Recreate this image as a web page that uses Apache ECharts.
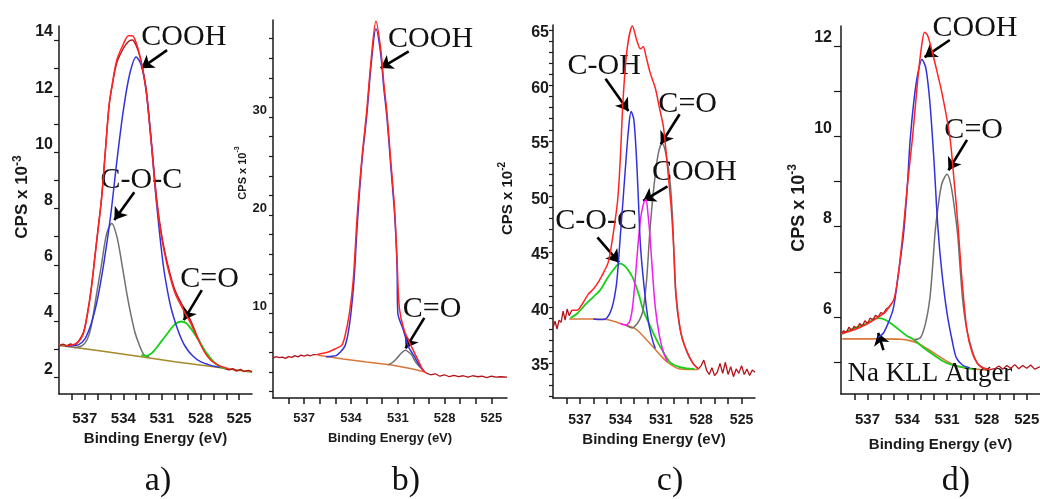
<!DOCTYPE html>
<html><head><meta charset="utf-8">
<script src="https://cdn.jsdelivr.net/npm/echarts@6/dist/echarts.min.js"></script>
<style>html,body{margin:0;padding:0;background:#fff}#c{width:1040px;height:499px}</style>
</head><body><div id="c"></div>
<script>
// ---------- shared tick values ----------
const energyTicks = [525,526,527,528,529,530,531,532,533,534,535,536,537,538];
const energyLabels = [525,528,531,534,537];

// ---------- panel a ----------
const aYTicks = [2,3,4,5,6,7,8,9,10,11,12,13,14];
const aYLabels = [2,4,6,8,10,12,14];
const aBackground = [[539,3.13],[536,2.95],[533,2.75],[530,2.55],[527,2.37],[524,2.18]];
const aMeasured = [[539,3.1],[538.7,3.17],[538.4,3.12],[538.1,3.18],[537.8,3.14],[537.5,3.27],[537.1,3.6],[536.8,4.25],[536.5,5.15],[536.2,6.35],[536,7.15],[535.7,8.35],[535.4,10.05],[535.1,11.7],[534.8,12.55],[534.5,13.2],[534,13.7],[533.6,13.95],[533.3,14.0],[533,13.8],[532.7,13.4],[532.4,12.75],[532.2,12.15],[531.8,10.3],[531.4,8.3],[531,7.0],[530.6,6.1],[530.2,5.4],[529.9,5.0],[529.4,4.55],[528.8,4.05],[528.3,3.5],[527.7,2.95],[527.2,2.62],[526.5,2.38],[526.1,2.3],[525.8,2.26],[525.5,2.3],[525.2,2.22],[524.9,2.27],[524.6,2.2],[524.3,2.24],[524,2.2]];
const aEnvelope = [[538.5,3.12],[538,3.14],[537.5,3.25],[537.1,3.55],[536.8,4.2],[536.5,5.1],[536.2,6.3],[536,7.1],[535.7,8.3],[535.4,10],[535.1,11.7],[534.8,12.6],[534.5,13.3],[534,13.85],[533.6,14.15],[533.3,14.15],[533,13.9],[532.7,13.4],[532.4,12.7],[532.2,12.1],[531.8,10.2],[531.4,8.2],[531,6.9],[530.6,6.0],[530.2,5.3],[529.9,4.9],[529.4,4.45],[528.8,3.95],[528.3,3.45],[527.7,2.9],[527.2,2.6],[526.5,2.4],[525.8,2.3]];
const aCOOH = [[538.5,3.1],[537.5,3.15],[537,3.35],[536.5,3.9],[536,4.8],[535.5,6.1],[535,7.7],[534.5,9.7],[534,11.5],[533.5,12.8],[533,13.4],[532.6,13.1],[532.2,12.1],[531.8,10.2],[531.4,8.1],[530.9,6.0],[530.5,4.9],[530.2,4.3],[529.7,3.6],[529.2,3.1],[528.6,2.75],[528,2.55],[527.2,2.42],[526.5,2.35]];
const aCOC = [[537.8,3.05],[537.2,3.12],[536.8,3.35],[536.5,3.8],[536.1,4.9],[535.7,6.0],[535.3,7.1],[534.9,7.47],[534.5,7.0],[534.1,6.0],[533.7,4.9],[533.4,4.2],[533.1,3.6],[532.8,3.2],[532.4,2.8],[532,2.72]];
const aCO = [[532.6,2.78],[532.2,2.76],[531.8,2.85],[531.5,3.0],[531,3.3],[530.5,3.6],[530,3.88],[529.5,3.98],[529.1,3.92],[528.7,3.7],[528.2,3.35],[527.6,2.9],[527,2.55],[526.5,2.38],[526,2.3]];
const aNotes = [['COOH',529.3,14.1],['C-O-C',532.6,9.0],['C=O',527.3,5.5]];
const aArrows = [[530.6,13.64,532.6,13.0],[533.15,8.58,534.7,7.59],[527.9,5.1,529.3,4.03]];

// ---------- panel b ----------
const bYTicks = [2,4,6,8,10,12,14,16,18,20,22,24,26,28,30,32,34,36,38,40];
const bYLabels = [10,20,30];
const bBackground = [[536.1,5.7],[534.5,5.3],[533,5.0],[531.4,4.7],[530.2,4.35],[529.3,4.0]];
const bMeasuredLeft = [[539,5.4],[538.8,5.55],[538.6,5.45],[538.4,5.5],[538.2,5.38],[538,5.55],[537.8,5.48],[537.6,5.65],[537.4,5.52],[537.2,5.7],[537,5.6],[536.8,5.72],[536.6,5.64],[536.4,5.75],[536.2,5.75]];
const bMeasuredRight = [[529.2,3.9],[528.9,3.7],[528.6,3.8],[528.3,3.55],[528,3.7],[527.7,3.5],[527.4,3.65],[527.1,3.5],[526.8,3.6],[526.5,3.45],[526.2,3.6],[525.9,3.5],[525.6,3.55],[525.3,3.4],[525,3.55],[524.7,3.45],[524.4,3.5],[524,3.45]];
const bEnvelope = [[536.2,5.75],[535.8,5.9],[535.5,6.0],[534.95,6.4],[534.6,6.7],[534.4,7.55],[534.1,10],[533.85,13.5],[533.6,20],[533.3,25.8],[533,30.5],[532.7,36],[532.4,39.8],[532.1,37],[531.9,33.5],[531.7,30.5],[531.45,25.5],[531.2,20.5],[531.05,15.5],[530.9,10.5],[530.6,8.3],[530.1,6.5],[529.7,5.2],[529.4,4.2],[529.2,3.9]];
const bCOOH = [[535.6,5.55],[535.2,5.6],[534.95,5.65],[534.7,6.0],[534.4,6.6],[534.2,7.8],[534.0,10],[533.8,13.5],[533.6,19],[533.3,25.5],[533,30],[532.7,35.5],[532.4,39],[532.1,36.5],[531.9,33],[531.7,30],[531.45,25],[531.2,20],[531.05,15],[531.0,10],[530.65,8.3],[530.3,6.5],[529.95,5.6],[529.6,4.6],[529.3,4.05]];
const bCO = [[531.6,4.72],[531.3,5.0],[531.0,5.5],[530.75,5.95],[530.5,6.2],[530.3,6.0],[530.1,5.7],[529.9,5.1],[529.7,4.7],[529.4,4.2]];
const bNotes = [['COOH',528.9,37.9],['C=O',528.8,10.4]];
const bArrows = [[530.3,36.7,532.1,35.0],[529.3,9.5,530.5,6.4]];

// ---------- panel c ----------
const cYTicks = [33,34,35,36,37,38,39,40,41,42,43,44,45,46,47,48,49,50,51,52,53,54,55,56,57,58,59,60,61,62,63,64,65,66];
const cYLabels = [35,40,45,50,55,60,65];
const cBackground = [[537.8,39.95],[536,39.95],[535,39.9],[534.5,39.75],[534,39.55],[533,39.15],[532.5,38.65],[531.8,37.75],[531,36.65],[530.5,36.05],[530,35.65],[529.6,35.45],[528.2,35.4]];
const cMeasuredLeft = [[539,39.15],[538.85,39.75],[538.7,39.05],[538.55,39.85],[538.4,39.65],[538.25,40.65],[538.1,39.85],[537.95,40.85],[537.8,40.25],[537.6,40.75]];
const cMeasuredRight = [[528.2,35.45],[528,35.75],[527.8,36.25],[527.6,35.35],[527.4,34.95],[527.2,35.55],[527,34.85],[526.8,35.15],[526.6,35.95],[526.4,35.05],[526.2,36.05],[526,34.95],[525.8,35.65],[525.6,34.75],[525.4,35.45],[525.2,35.05],[525,35.75],[524.8,34.95],[524.6,35.45],[524.4,34.85],[524.2,35.35],[524,35.15]];
const cEnvelope = [[537.6,40.75],[537.2,40.75],[536.8,41.35],[536.4,42.15],[536,42.65],[535.6,43.35],[535.2,44.25],[534.9,45.05],[534.6,47.05],[534.2,50.65],[534,54.45],[533.8,59.65],[533.5,64.25],[533.1,66.35],[532.8,65.15],[532.5,64.3],[532.3,64.5],[532.1,63.65],[531.8,62.2],[531.4,60.75],[531.1,59.0],[530.8,57.25],[530.5,53.65],[530.2,49.6],[530.0,45.5],[529.85,41.95],[529.5,38.65],[529.2,37.45],[528.6,35.95],[528.2,35.45]];
const cCOH = [[536,39.95],[535.5,39.9],[535,40.05],[534.6,41.05],[534.3,42.95],[534.15,44.95],[534,47.45],[533.8,50.65],[533.6,53.95],[533.4,56.95],[533.2,58.65],[533,57.95],[532.8,54.45],[532.65,50.45],[532.5,46.45],[532.2,42.45],[531.9,39.6],[531.6,38.0],[531.4,37.3]];
const cCOOH = [[534,39.55],[533.6,39.4],[533.3,39.75],[533.1,40.95],[532.9,43.45],[532.7,46.45],[532.5,48.95],[532.3,50.25],[532.1,50.75],[531.95,49.45],[531.8,47.45],[531.6,43.95],[531.4,40.95],[531.1,38.45],[530.8,36.95],[530.5,36.1]];
const cCO = [[533.6,39.4],[533.1,39.15],[532.8,39.45],[532.5,40.05],[532.3,40.85],[532.05,43.45],[531.8,47.95],[531.5,51.95],[531.2,54.75],[530.9,55.8],[530.6,54.75],[530.3,52.25],[530.1,48.45],[529.9,42.45],[529.6,39.25],[529.2,37.45],[528.9,36.55],[528.6,35.95],[528.2,35.45]];
const cCOC = [[537.7,40.05],[537.2,40.45],[536.6,41.25],[536,41.95],[535.5,42.55],[535,43.55],[534.6,44.25],[534.2,44.85],[534,44.95],[533.6,44.65],[533.2,43.95],[533,43.45],[532.6,42.05],[532.3,40.75],[531.8,39.35],[531.3,38.05],[530.8,36.95],[530.3,36.05],[529.7,35.65],[529.1,35.5],[528.5,35.45]];
const cNotes = [['C-OH',535.2,62.7],['C=O',529.0,59.3],['COOH',528.5,53.2],['C-O-C',535.8,48.75]];
const cArrows = [[535.1,61.6,533.4,58.7],[529.6,58.4,531.0,55.7],[530.5,51.9,532.3,50.6],[535.7,47.3,534.1,45.05]];

// ---------- panel d ----------
const dYTicks = [5,6,7,8,9,10,11,12];
const dYLabels = [6,8,10,12];
const dBackground = [[538.9,5.52],[536,5.52],[534.5,5.51],[533.8,5.48],[533.2,5.42],[532.5,5.3],[531.8,5.17],[531,5.02],[530.3,4.92],[529.5,4.87],[528.8,4.85],[527.8,4.82]];
const dMeasuredLeft = [[539,5.62],[538.8,5.7],[538.6,5.66],[538.4,5.78],[538.2,5.7],[538,5.8],[537.8,5.74],[537.6,5.86],[537.4,5.8],[537.2,5.92],[537,5.86],[536.8,5.98],[536.6,5.94],[536.4,6.04],[536.2,6.0],[536,6.1],[535.8,6.08],[535.6,6.18],[535.4,6.22],[535.2,6.3]];
const dMeasuredRight = [[527.8,4.84],[527.4,4.86],[527.1,4.92],[526.8,4.85],[526.5,4.93],[526.2,4.87],[525.9,4.95],[525.6,4.86],[525.3,4.93],[525,4.87],[524.7,4.94],[524.4,4.85],[524,4.9]];
const dEnvelope = [[539,5.63],[538,5.72],[537,5.85],[536.3,5.98],[535.7,6.1],[535.3,6.25],[535,6.4],[534.7,6.9],[534.5,7.4],[534.3,7.95],[534,8.9],[533.6,10],[533.2,11.3],[532.9,12.05],[532.7,12.3],[532.5,12.25],[532.3,12.07],[531.9,11.6],[531.4,10.97],[530.8,10],[530.5,9.1],[530.2,8.1],[529.9,6.9],[529.5,5.7],[529.1,5.2],[528.7,4.97],[528.3,4.88],[527.8,4.84]];
const dCOOH = [[536.2,5.55],[535.8,5.65],[535.4,5.9],[535.05,6.2],[534.7,6.9],[534.3,7.8],[534,8.9],[533.8,9.87],[533.5,10.8],[533.2,11.4],[532.9,11.7],[532.6,11.5],[532.3,10.75],[532,9.5],[531.7,8.0],[531.4,7.0],[531,6.07],[530.6,5.45],[530.3,5.1],[529.8,4.93],[529.3,4.88]];
const dCO = [[533.5,5.5],[533,5.55],[532.6,5.9],[532.3,6.42],[532.1,7.1],[531.9,7.9],[531.7,8.4],[531.4,8.95],[531,9.16],[530.7,8.9],[530.4,8.3],[530.2,7.8],[530,7.0],[529.8,6.3],[529.5,5.7],[529.1,5.25],[528.7,4.97],[528.2,4.86],[527.8,4.82]];
const dNa = [[538.9,5.63],[538.3,5.72],[537.6,5.8],[537,5.87],[536.5,5.96],[536.1,5.98],[535.6,5.93],[535.1,5.83],[534.7,5.74],[534.1,5.6],[533.5,5.5],[532.8,5.33],[532.2,5.2],[531.6,5.08],[531,4.98],[530.3,4.92],[529.5,4.87],[528.8,4.85]];
const dNotes = [['COOH',528.9,12.4],['C=O',529.0,10.14],['Na KLL Auger',532.3,4.74]];
const dArrows = [[530.8,12.13,532.7,11.75],[529.5,9.92,530.9,9.25],[535.8,5.27,536.2,5.65]];

// ---------- styling ----------
const FS = "'Liberation Sans', Arial, sans-serif";
const FN = "'Liberation Sans Narrow', 'Liberation Sans', Arial, sans-serif";
const SERIF = "'Liberation Serif', 'Times New Roman', serif";
const INK = '#1a1a1a';
const C = {red:'#ff2424', dark:'#b3131b', blue:'#3232dc', gray:'#707070', green:'#18d018', mag:'#f01cf0', bg:'#d9773a', olive:'#a58a2c'};

const panels = [
  {grid:{left:59,top:26,width:193,height:368}, ymin:1.4, ymax:14.5, yt:aYTicks, yl:aYLabels, exp:'-3',
   yFont:{f:FS,s:16}, xFont:{f:FN,s:15}, xName:{f:FS,s:15}, nameFont:17, yNameGap:17, yNamePad:26,
   xMargin:17, xNameGap:33, yMargin:6, yTick:5, notes:aNotes, arrows:aArrows, noteSize:30},
  {grid:{left:273,top:20,width:234,height:378}, ymin:1.33, ymax:39.9, yt:bYTicks, yl:bYLabels, exp:'-3',
   yFont:{f:FN,s:13}, xFont:{f:FN,s:13}, xName:{f:FN,s:13}, nameFont:11, yNameGap:22, yNamePad:72,
   xMargin:14, xNameGap:34, yMargin:6, yTick:4, notes:bNotes, arrows:bArrows, noteSize:30},
  {grid:{left:553,top:25,width:202,height:373}, ymin:32.83, ymax:66.45, yt:cYTicks, yl:cYLabels, exp:'-2',
   yFont:{f:FS,s:16}, xFont:{f:FS,s:14}, xName:{f:FS,s:15}, nameFont:15, yNameGap:35, yNamePad:26,
   xMargin:15, xNameGap:32, yMargin:4, yTick:4, notes:cNotes, arrows:cArrows, noteSize:30},
  {grid:{left:841,top:26,width:199,height:368}, ymin:4.30, ymax:12.44, yt:dYTicks, yl:dYLabels, exp:'-3',
   yFont:{f:FS,s:16}, xFont:{f:FS,s:15}, xName:{f:FS,s:15}, nameFont:18, yNameGap:30, yNamePad:4,
   xMargin:18, xNameGap:43, yMargin:9, yTick:7, notes:dNotes, arrows:dArrows, noteSize:30}
];

const grids = [], xAxes = [], yAxes = [];
panels.forEach((p, i) => {
  grids.push(Object.assign({containLabel:false, outerBoundsMode:'none'}, p.grid));
  xAxes.push({
    type:'value', gridIndex:i, inverse:true, min:524, max:539,
    name:'Binding Energy (eV)', nameLocation:'middle', nameGap:p.xNameGap,
    nameTextStyle:{fontFamily:p.xName.f, fontSize:p.xName.s, fontWeight:'bold', color:INK},
    axisLine:{show:true, lineStyle:{color:INK, width:1.5}},
    axisTick:{show:true, customValues:energyTicks, length:6, lineStyle:{color:INK, width:1.5}},
    axisLabel:{show:true, customValues:energyLabels, margin:p.xMargin, fontFamily:p.xFont.f, fontSize:p.xFont.s, fontWeight:'bold', color:INK},
    splitLine:{show:false}
  });
  yAxes.push({
    type:'value', gridIndex:i, min:p.ymin, max:p.ymax,
    name:'{m|CPS x 10}{s|' + p.exp + '}', nameLocation:'middle', nameGap:p.yNameGap,
    nameTextStyle:{fontFamily:FS, fontSize:p.nameFont, fontWeight:'bold', color:INK, padding:[0,0,0,p.yNamePad],
      rich:{m:{fontFamily:FS, fontSize:p.nameFont, fontWeight:'bold', color:INK, lineHeight:p.nameFont+6},
            s:{fontFamily:FS, fontSize:Math.round(p.nameFont*0.68), fontWeight:'bold', color:INK, verticalAlign:'top', lineHeight:p.nameFont+6}}},
    axisLine:{show:true, lineStyle:{color:INK, width:1.5}},
    axisTick:{show:true, customValues:p.yt, length:p.yTick, lineStyle:{color:INK, width:1.2}},
    axisLabel:{show:true, customValues:p.yl, margin:p.yMargin, fontFamily:p.yFont.f, fontSize:p.yFont.s, fontWeight:'bold', color:INK, verticalAlign:'bottom', lineHeight:p.yFont.s},
    splitLine:{show:false}
  });
});

function line(i, data, color, width, z, smooth) {
  return {type:'line', xAxisIndex:i, yAxisIndex:i, data:data, symbol:'none', smooth:smooth === undefined ? 0.3 : smooth,
    lineStyle:{color:color, width:width}, z:z, silent:true, animation:false};
}
function notesSeries(i) {
  const p = panels[i];
  return {type:'line', xAxisIndex:i, yAxisIndex:i, data:[], symbol:'none', silent:true, animation:false, z:20,
    itemStyle:{color:'#000'}, lineStyle:{color:'#000'},
    markLine:{silent:true, animation:false, symbol:['none','arrow'], symbolSize:12, precision:4,
      itemStyle:{color:'#000'},
      lineStyle:{color:'#000', width:2.6, type:'solid'}, label:{show:false}, emphasis:{disabled:true},
      data:p.arrows.map(a => [{coord:[a[0],a[1]]},{coord:[a[2],a[3]]}])},
    markPoint:{silent:true, animation:false, symbol:'rect', symbolSize:1, itemStyle:{color:'rgba(0,0,0,0)'},
      label:{show:true, position:'inside', formatter:'{b}', fontFamily:SERIF,
        fontSize:p.noteSize, color:'#111'},
      data:p.notes.map(n => ({name:n[0], coord:[n[1],n[2]], label:{fontSize: n[0].length > 6 ? 27 : p.noteSize}}))}
  };
}

const series = [
  line(0, aBackground, C.olive, 1.6, 2, false),
  line(0, aMeasured, C.dark, 1.4, 3),
  line(0, aCOC, C.gray, 1.5, 4),
  line(0, aCO, C.green, 1.8, 4),
  line(0, aCOOH, C.blue, 1.5, 5),
  line(0, aEnvelope, C.red, 1.5, 6),
  notesSeries(0),

  line(1, bBackground, C.bg, 1.5, 2, false),
  line(1, bMeasuredLeft, C.dark, 1.3, 3, false),
  line(1, bMeasuredRight, C.dark, 1.3, 3, false),
  line(1, bCO, C.gray, 1.5, 4),
  line(1, bCOOH, C.blue, 1.5, 5),
  line(1, bEnvelope, C.red, 1.5, 6),
  notesSeries(1),

  line(2, cBackground, C.bg, 1.5, 2),
  line(2, cMeasuredLeft, C.dark, 1.3, 3, false),
  line(2, cMeasuredRight, C.dark, 1.3, 3, false),
  line(2, cCOC, C.green, 1.8, 4),
  line(2, cCO, C.gray, 1.5, 4),
  line(2, cCOOH, C.mag, 1.5, 5),
  line(2, cCOH, C.blue, 1.5, 5),
  line(2, cEnvelope, C.red, 1.5, 6),
  notesSeries(2),

  line(3, dBackground, C.bg, 1.6, 2),
  line(3, dNa, C.green, 1.8, 3),
  line(3, dCO, C.gray, 1.5, 4),
  line(3, dCOOH, C.blue, 1.5, 5),
  line(3, dMeasuredLeft, C.dark, 1.3, 5, false),
  line(3, dMeasuredRight, C.dark, 1.3, 5, false),
  line(3, dEnvelope, C.red, 1.5, 6),
  notesSeries(3)
];

const subLabels = ['a)','b)','c)','d)'];
const subLabelX = [153, 401, 665, 951];
const titles = subLabels.map((t, i) => ({text:t, left:subLabelX[i], top:459, textAlign:'center',
  textStyle:{fontFamily:SERIF, fontSize:34, fontWeight:'normal', color:'#111'}}));

const chart = echarts.init(document.getElementById('c'), null, {renderer:'canvas'});
chart.setOption({
  animation:false, backgroundColor:'#ffffff',
  title:titles, grid:grids, xAxis:xAxes, yAxis:yAxes, series:series
});
</script>
</body></html>
